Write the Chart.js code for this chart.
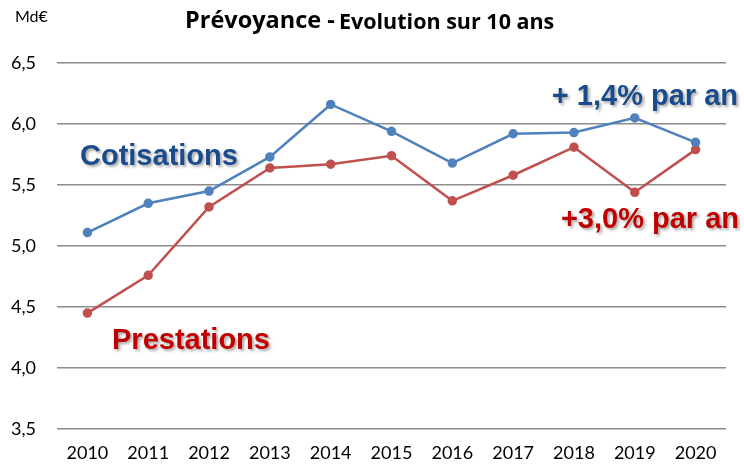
<!DOCTYPE html>
<html>
<head>
<meta charset="utf-8">
<script src="https://cdn.jsdelivr.net/npm/chart.js@4"></script>
<style>
  html, body { margin: 0; padding: 0; background: #fff; }
  #wrap { width: 744px; height: 469px; }
</style>
</head>
<body>
<div id="wrap"><canvas id="prevoyance"></canvas></div>
<script>
const years = ["2010", "2011", "2012", "2013", "2014", "2015", "2016", "2017", "2018", "2019", "2020"];
const cotisations = [5.11, 5.35, 5.45, 5.73, 6.16, 5.94, 5.68, 5.92, 5.93, 6.05, 5.85];
const prestations = [4.45, 4.76, 5.32, 5.64, 5.67, 5.74, 5.37, 5.58, 5.81, 5.44, 5.79];

const blue = '#4F81BD';
const red = '#C0504D';

// titles and labels written on top of the chart
const textPlugin = {
    id: 'texts',
    afterDraw(chart) {
        const ctx = chart.ctx;
        ctx.save();
        ctx.textBaseline = 'middle';
        ctx.fillStyle = '#000';
        ctx.font = '16px Lato';
        ctx.textAlign = 'left';
        ctx.fillText('Md€', 15, 17);

        ctx.font = 'bold 23.5px "Open Sans"';
        ctx.fillText('Prévoyance -', 185, 21);
        const w = ctx.measureText('Prévoyance - ').width;
        ctx.font = 'bold 21.5px "Open Sans"';
        ctx.fillText('Evolution sur 10 ans', 183 + w, 23);

        ctx.shadowColor = 'rgba(0,0,0,0.35)';
        ctx.shadowBlur = 3;
        ctx.shadowOffsetX = 2;
        ctx.shadowOffsetY = 2;
        ctx.font = 'bold 29px "Liberation Sans"';
        ctx.fillStyle = '#1A4B8C';
        ctx.fillText('Cotisations', 80, 157);
        ctx.textAlign = 'right';
        ctx.fillText('+ 1,4% par an', 738, 97);
        ctx.fillStyle = '#C00000';
        ctx.fillText('+3,0% par an', 739, 220);
        ctx.textAlign = 'left';
        ctx.fillText('Prestations', 112, 341);
        ctx.restore();
    }
};

new Chart(
    document.getElementById('prevoyance'),
    {
        type: 'line',
        data: {
            labels: years,
            datasets: [
                {
                    label: 'Cotisations',
                    data: cotisations,
                    borderColor: blue,
                    backgroundColor: blue,
                    borderWidth: 2.5,
                    pointRadius: 3.5,
                    tension: 0
                },
                {
                    label: 'Prestations',
                    data: prestations,
                    borderColor: red,
                    backgroundColor: red,
                    borderWidth: 2.5,
                    pointRadius: 3.5,
                    tension: 0
                }
            ]
        },
        options: {
            responsive: true,
            maintainAspectRatio: false,
            animation: false,
            layout: { padding: { top: 63, right: 18, left: 0, bottom: 0 } },
            plugins: {
                legend: { display: false },
                tooltip: { enabled: false }
            },
            scales: {
                x: {
                    offset: true,
                    grid: { display: false, drawTicks: false },
                    border: { display: false },
                    ticks: { color: '#000', font: { family: 'Lato', size: 18 }, padding: 13, maxRotation: 0 },
                    afterFit: (s) => { s.height = 40; }
                },
                y: {
                    min: 3.5,
                    max: 6.5,
                    grid: { color: '#8C8C8C', lineWidth: 1.5, drawTicks: false },
                    border: { display: false },
                    ticks: {
                        stepSize: 0.5,
                        color: '#000',
                        padding: 21,
                        font: { family: 'Lato', size: 18 },
                        callback: (v) => v.toFixed(1).replace('.', ',')
                    },
                    afterFit: (s) => { s.width = 57; }
                }
            }
        },
        plugins: [textPlugin]
    }
);
</script>
</body>
</html>
